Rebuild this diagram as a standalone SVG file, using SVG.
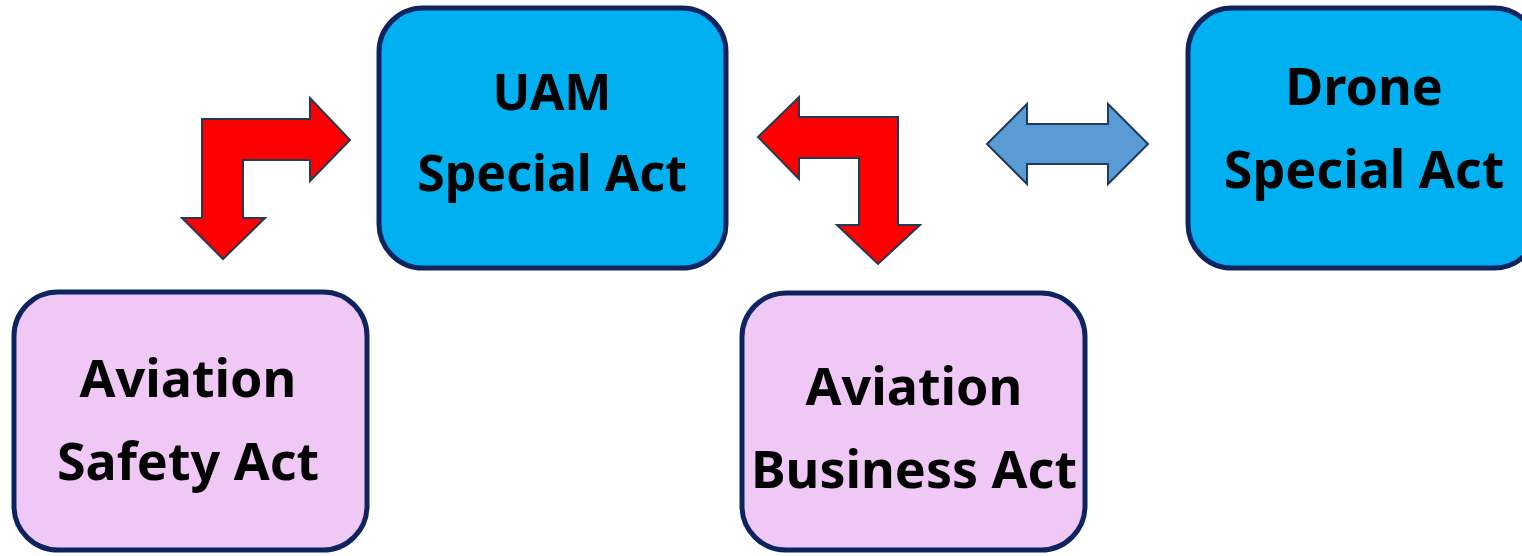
<svg xmlns="http://www.w3.org/2000/svg" width="1522" height="556" viewBox="0 0 1522 556">
  <style>
    .box { stroke: #0E2460; stroke-width: 5; }
    .blue { fill: #00B0F0; }
    .pink { fill: #F0C8F6; }
    .label { font-family: "Noto Sans", "Open Sans", sans-serif; font-weight: bold; font-size: 50px; fill: #000; text-anchor: middle; }
    .big { font-size: 52px; }
    .red { fill: #FF0000; stroke: #203A58; stroke-width: 2; stroke-linejoin: miter; }
    .dbl { fill: #5B9BD5; stroke: #1F3A5A; stroke-width: 2; stroke-linejoin: miter; }
  </style>

  <g id="uam-special-act">
    <rect class="box blue" x="379" y="8" width="347" height="260" rx="44"/>
    <text class="label" x="552" y="110">UAM</text>
    <text class="label" x="552" y="191">Special Act</text>
  </g>

  <g id="drone-special-act">
    <rect class="box blue" x="1188" y="8" width="350" height="260" rx="44"/>
    <text class="label big" x="1364" y="105">Drone</text>
    <text class="label big" x="1364" y="188">Special Act</text>
  </g>

  <g id="aviation-safety-act">
    <rect class="box pink" x="14" y="292" width="353" height="258" rx="44"/>
    <text class="label big" x="188" y="397">Aviation</text>
    <text class="label big" x="188" y="480">Safety Act</text>
  </g>

  <g id="aviation-business-act">
    <rect class="box pink" x="742" y="293" width="343" height="257" rx="44"/>
    <text class="label big" x="914" y="405">Aviation</text>
    <text class="label big" x="914" y="488">Business Act</text>
  </g>

  <g id="connectors">
    <!-- bent arrow: UAM <-> Aviation Safety -->
    <polygon class="red" points="202,119 310,119 310,98 350,140 310,181 310,160 243,160 243,218 265,218 223,259 182,218 202,218"/>
    <!-- bent arrow: UAM <-> Aviation Business -->
    <polygon class="red" points="898,117 898,225 920,225 878,264 837,225 859,225 859,158 799,158 799,179 758,137 799,97 799,117"/>
    <!-- double arrow: UAM <-> Drone -->
    <polygon class="dbl" points="987,144 1027,104 1027,124 1108,124 1108,104 1148,144 1108,184 1108,164 1027,164 1027,184"/>
  </g>
</svg>
